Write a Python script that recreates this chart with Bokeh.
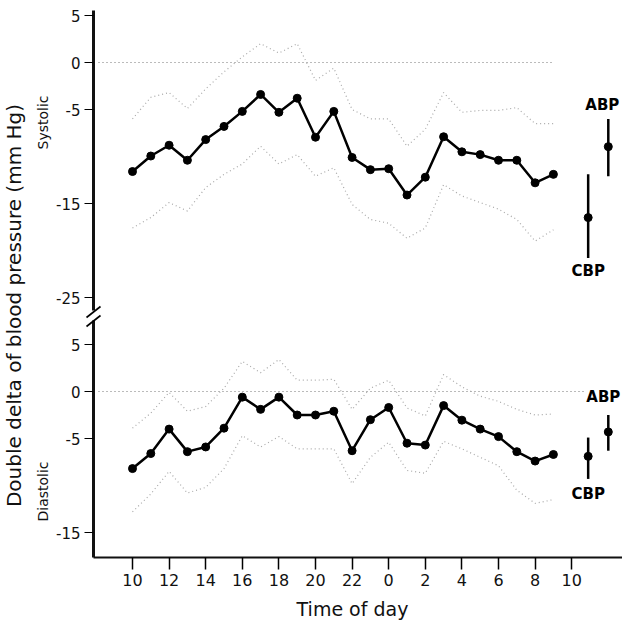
import math
from bokeh.plotting import figure
from bokeh.models import Range1d, FixedTicker, Label
from bokeh.embed import file_html
from bokeh.resources import INLINE

# ---------------- data ----------------
hours = list(range(10, 34))  # 10:00 day 1 ... 09:00 day 2
x_tick_values = list(range(10, 35, 2))
x_tick_labels = ["10", "12", "14", "16", "18", "20", "22", "0", "2", "4", "6", "8", "10"]

sys_mean = [-11.6, -9.95, -8.8, -10.4, -8.2, -6.8, -5.2, -3.4, -5.3, -3.8, -7.95, -5.2,
            -10.1, -11.4, -11.3, -14.1, -12.2, -7.9, -9.5, -9.8, -10.4, -10.4, -12.8, -11.9]
sys_upper = [-6.0, -3.7, -3.2, -4.9, -2.8, -1.0, 0.6, 2.0, 1.0, 2.0, -1.9, -0.6,
             -5.0, -6.0, -6.0, -8.9, -7.1, -3.2, -5.3, -5.1, -5.1, -4.8, -6.5, -6.5]
sys_lower = [-17.6, -16.5, -14.9, -15.8, -13.3, -11.9, -10.8, -8.9, -10.8, -9.8, -12.1, -11.2,
             -15.1, -16.7, -17.1, -18.7, -17.6, -13.0, -14.2, -14.9, -15.6, -16.7, -19.0, -17.8]

dia_mean = [-8.2, -6.6, -4.0, -6.4, -5.9, -3.9, -0.6, -1.9, -0.6, -2.5, -2.5, -2.1,
            -6.3, -3.0, -1.7, -5.5, -5.7, -1.5, -3.05, -4.0, -4.8, -6.4, -7.4, -6.7]
dia_upper = [-3.9, -2.3, -0.1, -2.1, -1.6, 0.35, 3.2, 2.0, 3.4, 1.2, 1.2, 1.3,
             -1.9, 0.35, 1.2, -1.75, -2.6, 1.8, 0.5, -0.5, -1.05, -1.9, -2.5, -2.4]
dia_lower = [-12.8, -10.9, -8.5, -10.8, -10.2, -8.2, -4.7, -5.9, -4.8, -6.1, -6.1, -6.1,
             -9.8, -7.0, -5.4, -8.4, -8.7, -5.3, -6.1, -7.0, -7.9, -10.5, -11.9, -11.5]

summary_names = ["CBP", "ABP"]
summary_x = [34.9, 36.0]
sys_sum_mean = [-16.5, -8.95]
sys_sum_low = [-20.8, -12.1]
sys_sum_high = [-11.9, -6.0]
dia_sum_mean = [-6.9, -4.3]
dia_sum_low = [-9.3, -6.3]
dia_sum_high = [-4.9, -2.5]

sys_ticks = [5, 0, -5, -15, -25]
dia_ticks = [5, 0, -5, -15]

# ---------------- layout ----------------
W, H = 622, 623
PXH = 18.3      # pixels per hour
PYU = 9.4       # pixels per mm Hg
X0 = 10 - 132 / PXH
Y1 = 62 / PYU
OFFSET = -35    # vertical shift of the diastolic panel

x_range = Range1d(X0, X0 + W / PXH)
y_range = Range1d(Y1 - H / PYU, Y1)


def xd(px):
    return X0 + px / PXH


def yd(py):
    return Y1 - py / PYU


FONT = "DejaVu Sans"
INK = "#111111"

p = figure(width=W, height=H, x_range=x_range, y_range=y_range,
           output_backend="svg", toolbar_location=None,
           min_border_left=0, min_border_right=0, min_border_top=0,
           min_border_bottom=0)
p.outline_line_color = None
p.grid.visible = False
p.background_fill_color = "white"
p.border_fill_color = "white"

# x axis
p.xaxis.fixed_location = yd(557)
p.xaxis.bounds = (xd(93), xd(622))
p.xaxis.ticker = FixedTicker(ticks=x_tick_values)
p.xaxis.major_label_overrides = {v: l for v, l in zip(x_tick_values, x_tick_labels)}
p.xaxis.axis_line_width = 2
p.xaxis.axis_line_color = INK
p.xaxis.major_tick_out = 12
p.xaxis.major_tick_in = 0
p.xaxis.major_tick_line_width = 1.5
p.xaxis.minor_tick_line_color = None
p.xaxis.major_label_standoff = 4
p.xaxis.major_label_text_font = FONT
p.xaxis.major_label_text_font_size = "16px"
p.xaxis.major_label_text_color = INK

# y axis
y_ticks = sys_ticks + [t + OFFSET for t in dia_ticks]
y_labels = [str(t) for t in sys_ticks] + [str(t) for t in dia_ticks]
p.yaxis.fixed_location = xd(93)
p.yaxis.bounds = (yd(557), yd(10))
p.yaxis.ticker = FixedTicker(ticks=y_ticks)
p.yaxis.major_label_overrides = {v: l for v, l in zip(y_ticks, y_labels)}
p.yaxis.axis_line_width = 3
p.yaxis.axis_line_color = INK
p.yaxis.major_tick_out = 9
p.yaxis.major_tick_in = 0
p.yaxis.major_tick_line_width = 1
p.yaxis.minor_tick_line_color = None
p.yaxis.major_label_standoff = 4
p.yaxis.major_label_text_font = FONT
p.yaxis.major_label_text_font_size = "15px"
p.yaxis.major_label_text_color = INK

# zero reference lines
p.line([xd(98), xd(552)], [0, 0], line_color="#777777", line_width=1.2, line_dash="1 3")
p.line([xd(98), xd(583)], [OFFSET, OFFSET], line_color="#777777", line_width=1.2, line_dash="1 3")

bound_style = dict(line_color="#a8a8a8", line_width=1.2, line_dash="1 3")

# systolic panel
p.line(hours, sys_upper, **bound_style)
p.line(hours, sys_lower, **bound_style)
p.line(hours, sys_mean, line_color="black", line_width=2.5)
p.scatter(hours, sys_mean, size=8, color="black")

# diastolic panel
dia_mean_s = [v + OFFSET for v in dia_mean]
p.line(hours, [v + OFFSET for v in dia_upper], **bound_style)
p.line(hours, [v + OFFSET for v in dia_lower], **bound_style)
p.line(hours, dia_mean_s, line_color="black", line_width=2.5)
p.scatter(hours, dia_mean_s, size=8, color="black")

# summary points (CBP / ABP)
p.segment(summary_x, sys_sum_low, summary_x, sys_sum_high, line_color="black", line_width=2.5)
p.scatter(summary_x, sys_sum_mean, size=8, color="black")
p.segment(summary_x, [v + OFFSET for v in dia_sum_low], summary_x,
          [v + OFFSET for v in dia_sum_high], line_color="black", line_width=2.5)
p.scatter(summary_x, [v + OFFSET for v in dia_sum_mean], size=8, color="black")

lab = dict(text_font=FONT, text_font_style="bold", text_font_size="15px",
           text_align="center", text_color="black")
for name, x, lo, hi in zip(summary_names, summary_x, sys_sum_low, sys_sum_high):
    if name == "ABP":
        p.add_layout(Label(x=x, y=hi, x_offset=-6, y_offset=5, text_baseline="bottom", text=name, **lab))
    else:
        p.add_layout(Label(x=x, y=lo, y_offset=-4, text_baseline="top", text=name, **lab))
for name, x, lo, hi in zip(summary_names, summary_x, dia_sum_low, dia_sum_high):
    if name == "ABP":
        p.add_layout(Label(x=x, y=hi + OFFSET, x_offset=-5, y_offset=9, text_baseline="bottom", text=name, **lab))
    else:
        p.add_layout(Label(x=x, y=lo + OFFSET, y_offset=-6, text_baseline="top", text=name, **lab))

# titles
p.add_layout(Label(x=xd(13), y=yd(305), angle=math.pi / 2, text="Double delta of blood pressure (mm Hg)",
                   text_font=FONT, text_font_size="20px", text_align="center",
                   text_baseline="middle", text_color=INK))
p.add_layout(Label(x=xd(42), y=yd(122), angle=math.pi / 2, text="Systolic",
                   text_font=FONT, text_font_size="14px", text_align="center",
                   text_baseline="middle", text_color=INK))
p.add_layout(Label(x=xd(42), y=yd(491), angle=math.pi / 2, text="Diastolic",
                   text_font=FONT, text_font_size="14px", text_align="center",
                   text_baseline="middle", text_color=INK))
p.add_layout(Label(x=xd(352), y=yd(608), text="Time of day",
                   text_font=FONT, text_font_size="19px", text_align="center",
                   text_baseline="middle", text_color=INK))

# axis break mark (drawn above the axis)
p.quad(left=xd(89), right=xd(97), top=yd(310), bottom=yd(320), fill_color="white",
       line_color=None, level="overlay")
p.segment([xd(86), xd(86)], [yd(317), yd(326)], [xd(100), xd(100)], [yd(306), yd(315)],
          line_color="black", line_width=1.6, level="overlay")

open("out.html", "w").write(file_html(p, INLINE))
